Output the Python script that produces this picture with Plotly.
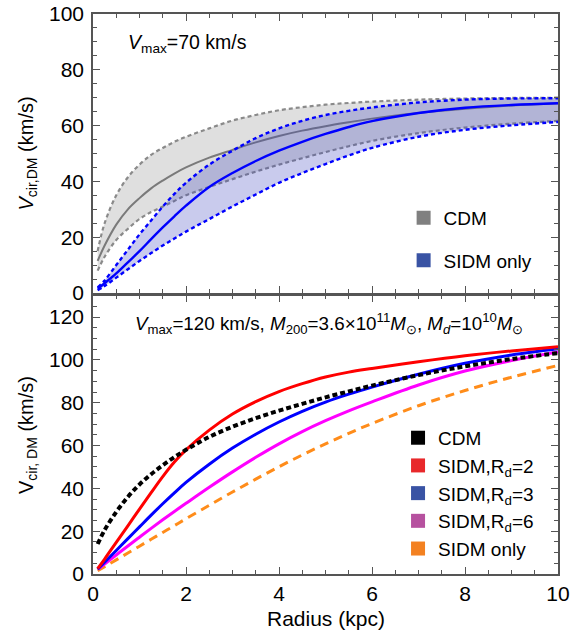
import plotly.graph_objects as go

# Radius grid (kpc)
R = [0.1, 0.25, 0.5, 0.75, 1, 1.25, 1.5, 1.75, 2, 2.5, 3, 3.5, 4, 4.5, 5, 5.5, 6, 7, 8, 9, 10]

# Top panel (Vmax = 70 km/s)
cdm_mid = [11.5, 17, 24.5, 30, 34, 37.5, 40.3, 42.8, 45, 48.5, 51.3, 54, 56.3, 58.2, 59.8, 61.2, 62.5, 64.5, 66, 67.2, 68]
cdm_hi = [15, 25, 35, 41.5, 46, 49.5, 52, 54.2, 56, 59, 61.8, 63.8, 65.5, 66.6, 67.5, 68.1, 68.6, 69.3, 69.7, 69.9, 70]
cdm_lo = [8, 13, 19, 23, 26.5, 29, 31, 33, 35, 38, 40.8, 43.5, 46, 48.3, 50.5, 52.6, 54.5, 57.3, 59.3, 60.7, 61.7]
sidm_mid = [1.5, 3.5, 7, 11, 15, 19.3, 23.5, 27.5, 31.3, 38, 43, 47.3, 51, 54.2, 57, 59.5, 61.6, 64.5, 66.4, 67.4, 68]
sidm_hi = [2, 4.5, 10, 15.5, 21, 26, 31, 35.5, 39.5, 46, 51, 55.5, 59, 61.7, 63.8, 65.3, 66.5, 68.3, 69.3, 69.7, 69.8]
sidm_lo = [1, 2.5, 5.5, 8.5, 11.5, 14.3, 17, 19.5, 22, 26.5, 31, 35.3, 39.5, 43, 46.2, 49.3, 52, 56, 58.5, 60.1, 61.3]

# Bottom panel (Vmax = 120 km/s)
cdm2 = [14, 20.5, 29, 36, 41.8, 46.6, 50.8, 54.6, 58, 64, 68.8, 72.8, 76.3, 79.5, 82.5, 85.3, 88, 92.9, 97, 100.4, 103.2]
sidm_rd2 = [2.5, 7, 14.8, 22.5, 30.3, 38, 45.5, 52.3, 58, 67.2, 74.7, 80.5, 85.2, 88.9, 92, 94.3, 96, 99.1, 101.9, 104.2, 106.2]
sidm_rd3 = [2.3, 5.5, 11, 16.5, 22, 27.5, 32.8, 37.9, 42.8, 51.3, 58.8, 65.3, 71, 76, 80.3, 84, 87.3, 93.3, 98.4, 102.3, 105.2]
sidm_rd6 = [2.2, 4.7, 8.9, 13.1, 17.2, 21.3, 25.3, 29.2, 33, 40.5, 47.7, 54.5, 60.8, 66.5, 71.6, 76.2, 80.4, 88.3, 94.8, 99.7, 103.7]
sidm_only2 = [1.5, 3.4, 6.6, 9.8, 13, 16.2, 19.4, 22.6, 25.8, 32.1, 38.3, 44.3, 50.1, 55.6, 60.8, 65.7, 70.3, 78.6, 85.7, 91.9, 97.4]

top_legend = ["CDM", "SIDM only"]
top_legend_colors = ["#808080", "#3953a4"]
bot_legend = ["CDM", "SIDM,R<sub>d</sub>=2", "SIDM,R<sub>d</sub>=3", "SIDM,R<sub>d</sub>=6", "SIDM only"]
bot_legend_colors = ["#000000", "#e8282b", "#3953a4", "#b6519f", "#f38121"]

FONT = "Liberation Sans, Arial, sans-serif"
fig = go.Figure()

def line(y, color, width, dash=None, xa='x', ya='y', fill=None, fillcolor=None):
    fig.add_trace(go.Scatter(
        x=R, y=y, mode='lines', xaxis=xa, yaxis=ya, showlegend=False,
        line=dict(color=color, width=width, dash=dash, shape='spline', smoothing=1.0),
        fill=fill, fillcolor=fillcolor, hoverinfo='skip'))

# top panel
line(cdm_lo, '#8a8a8a', 2.2, '4px,3px')
line(cdm_hi, '#8a8a8a', 2.2, '4px,3px', fill='tonexty', fillcolor='rgba(150,150,150,0.3)')
line(cdm_mid, '#7a7a7a', 2)
line(sidm_lo, '#0000ff', 2.4, '4px,3px')
line(sidm_hi, '#0000ff', 2.4, '4px,3px', fill='tonexty', fillcolor='rgba(60,70,190,0.28)')
line(sidm_mid, '#0000ff', 2.4)

# bottom panel
line(sidm_only2, '#ff8c1a', 3, '9px,6px', 'x2', 'y2')
line(sidm_rd6, '#ff00ff', 3, None, 'x2', 'y2')
line(sidm_rd3, '#0000ff', 3, None, 'x2', 'y2')
line(sidm_rd2, '#ff0000', 3, None, 'x2', 'y2')
line(cdm2, '#000000', 4, '5px,3px', 'x2', 'y2')

for i, (name, c) in enumerate(zip(top_legend, top_legend_colors)):
    fig.add_trace(go.Scatter(x=[None], y=[None], mode='markers', name=name, xaxis='x', yaxis='y',
                             marker=dict(symbol='square', size=14, color=c),
                             legend='legend', legendgroup='t%d' % i))
for i, (name, c) in enumerate(zip(bot_legend, bot_legend_colors)):
    fig.add_trace(go.Scatter(x=[None], y=[None], mode='markers', name=name, xaxis='x2', yaxis='y2',
                             marker=dict(symbol='square', size=14, color=c),
                             legend='legend2', legendgroup='b%d' % i))

axcol = '#555555'
common = dict(ticks='inside', ticklen=7, tickwidth=1.3, tickcolor=axcol, showline=True,
              linecolor=axcol, linewidth=1.5, mirror='allticks', showgrid=False, zeroline=False,
              automargin=False, tickfont=dict(size=21, color='black', family=FONT))

fig.update_layout(
    width=582, height=635,
    margin=dict(l=93, r=24, t=14, b=61, autoexpand=False),
    paper_bgcolor='white', plot_bgcolor='white',
    font=dict(family=FONT, color='black'),
    xaxis=dict(domain=[0, 1], anchor='y', range=[0, 10], dtick=2, showticklabels=False, matches='x2',
               minor=dict(dtick=0.5, ticklen=4, tickcolor=axcol, ticks='inside'), **common),
    yaxis=dict(domain=[0.5018, 1], anchor='x', range=[0, 100], dtick=20, ticklabelstandoff=3,
               minor=dict(dtick=5, ticklen=4, tickcolor=axcol, ticks='inside'), **common),
    xaxis2=dict(domain=[0, 1], anchor='y2', range=[0, 10], dtick=2,
                minor=dict(dtick=0.5, ticklen=4, tickcolor=axcol, ticks='inside'), **common),
    yaxis2=dict(domain=[0, 0.497], anchor='x2', range=[0, 130], dtick=20, ticklabelstandoff=3,
                minor=dict(dtick=5, ticklen=4, tickcolor=axcol, ticks='inside'), **common),
    legend=dict(x=0.668, y=0.670, xanchor='left', yanchor='top', bgcolor='rgba(0,0,0,0)',
                font=dict(size=19, family=FONT), tracegroupgap=15, traceorder='grouped'),
    legend2=dict(x=0.656, y=0.277, xanchor='left', yanchor='top', bgcolor='rgba(0,0,0,0)',
                 font=dict(size=19, family=FONT), tracegroupgap=0, traceorder='grouped'),
)

def px_x(x):
    return (x - 93) / 465.0

def px_y(y):
    return (574 - y) / 560.0

ann = [
    dict(text="<i>V</i><sub>max</sub>=70 km/s", x=px_x(126), y=px_y(43), xanchor='left', yanchor='middle',
         font=dict(size=19.5)),
    dict(text="<i>V</i><sub>max</sub>=120 km/s, <i>M</i><sub>200</sub>=3.6×10<sup>11</sup><i>M</i><sub>⊙</sub>, "
              "<i>M</i><sub><i>d</i></sub>=10<sup>10</sup><i>M</i><sub>⊙</sub>",
         x=px_x(133), y=px_y(323), xanchor='left', yanchor='middle', font=dict(size=18.8)),
    dict(text="<i>V</i><sub>cir,DM</sub> (km/s)", x=px_x(27), y=px_y(153.5), textangle=-90,
         xanchor='center', yanchor='middle', font=dict(size=20)),
    dict(text="V<sub>cir, DM</sub> (km/s)", x=px_x(27), y=px_y(435), textangle=-90,
         xanchor='center', yanchor='middle', font=dict(size=20)),
    dict(text="Radius (kpc)", x=0.5, y=px_y(618), xanchor='center', yanchor='middle', font=dict(size=21)),
]
for a in ann:
    a.update(xref='paper', yref='paper', showarrow=False)
fig.update_layout(annotations=ann)

fig.write_html("out.html", config={'displayModeBar': False},
               post_script="document.body.style.margin='0px';")
